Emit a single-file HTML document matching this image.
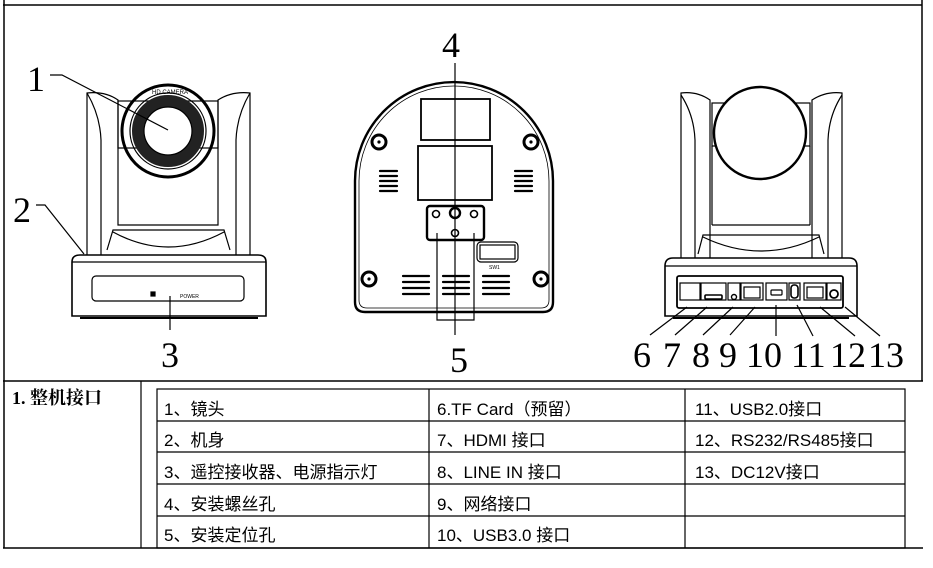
<!DOCTYPE html>
<html><head><meta charset="utf-8"><style>
body{margin:0;background:#fff;width:933px;height:568px;overflow:hidden;font-family:"Liberation Sans","Noto Sans CJK SC",sans-serif}
.t{position:absolute;font-size:17px;color:#000;white-space:nowrap}
</style></head><body>
<svg width="933" height="568" style="position:absolute;left:0;top:0" xmlns="http://www.w3.org/2000/svg" fill="none" stroke="#000" stroke-width="1.2">
<line x1="3" y1="5" x2="922" y2="5" stroke-width="1.5"/>
<line x1="4" y1="0" x2="4" y2="548" stroke-width="1.5"/>
<line x1="922" y1="0" x2="922" y2="381" stroke-width="1.5"/>
<line x1="3" y1="381" x2="923" y2="381" stroke-width="1.5"/>
<line x1="141" y1="381" x2="141" y2="548" stroke-width="1.2"/>
<line x1="3" y1="548" x2="923" y2="548" stroke-width="1.5"/>
<rect x="157" y="389" width="748" height="159" stroke-width="1.2"/>
<line x1="157" y1="421" x2="905" y2="421"/>
<line x1="157" y1="452" x2="905" y2="452"/>
<line x1="157" y1="484" x2="905" y2="484"/>
<line x1="157" y1="516" x2="905" y2="516"/>
<line x1="429" y1="389" x2="429" y2="548"/>
<line x1="685" y1="389" x2="685" y2="548"/>

<path d="M87 255 L87 93 Q105 91 118 100 L118 148"/>
<path d="M87 93 Q100 115 101 140 L101 255"/>
<path d="M250 255 L250 93 Q232 91 218 100 L218 148"/>
<path d="M250 93 Q237 115 236 140 L236 255"/>
<rect x="118" y="101" width="100" height="47"/>
<path d="M118 148 L118 225 L218 225 L218 148"/>
<path d="M107 250 L113 230 L224 230 L230 250 M113 232 Q168 262 224 232"/>
<circle cx="168" cy="131" r="46" stroke-width="3"/>
<circle cx="168" cy="131" r="38"/>
<circle cx="168" cy="131" r="30" stroke="#222" stroke-width="12"/>
<circle cx="168" cy="131" r="24" fill="#fff"/>
<text x="152" y="94" font-size="6" fill="#000" stroke="none" font-family="Liberation Sans">HD CAMERA</text>
<path d="M72 262 Q72 255 80 255 L258 255 Q266 255 266 262 L266 316 L72 316 Z" stroke-width="1.6"/>
<line x1="72" y1="262" x2="266" y2="262"/>
<rect x="92" y="276" width="152" height="25" rx="4"/>
<rect x="151" y="292" width="4" height="4" fill="#000"/>
<text x="180" y="298" font-size="5" fill="#000" stroke="none">POWER</text>
<line x1="80" y1="318" x2="258" y2="318" stroke-width="2"/>
<path d="M50 75 L62 75 L168 130"/>
<path d="M36 205 L45 205 L84 254"/>
<line x1="170" y1="296" x2="170" y2="330"/>

<path d="M355 181 A99 99 0 0 1 553 181 L553 302 Q553 312 543 312 L365 312 Q355 312 355 302 Z" stroke-width="2.4"/>
<path d="M359 181 A95 95 0 0 1 549 181 L549 300 Q549 308 541 308 L367 308 Q359 308 359 300 Z" stroke-width="0.8"/>
<circle cx="379" cy="142" r="7" stroke-width="3"/><circle cx="379" cy="142" r="1" fill="#000"/>
<circle cx="531" cy="142" r="7" stroke-width="3"/><circle cx="531" cy="142" r="1" fill="#000"/>
<circle cx="369" cy="279" r="7" stroke-width="3"/><circle cx="369" cy="279" r="1" fill="#000"/>
<circle cx="541" cy="279" r="7" stroke-width="3"/><circle cx="541" cy="279" r="1" fill="#000"/>
<rect x="421" y="99" width="69" height="41" stroke-width="1.8"/>
<rect x="418" y="146" width="74" height="54" stroke-width="1.8"/>
<rect x="427" y="206" width="57" height="34" rx="3" stroke-width="2.4"/>
<circle cx="436" cy="214" r="3.5" stroke-width="1.6"/>
<circle cx="455" cy="213" r="5" stroke-width="2.4"/>
<circle cx="474" cy="214" r="3.5" stroke-width="1.6"/>
<circle cx="455" cy="233" r="3.5" stroke-width="1.6"/>
<line x1="455" y1="63" x2="455" y2="335"/>
<path d="M437 233 L437 320 L474 320 L474 233"/>
<rect x="477" y="242" width="41" height="20" rx="4" stroke-width="1.2"/>
<rect x="480" y="245" width="35" height="14"/>
<text x="489" y="269" font-size="5" fill="#000" stroke="none">SW1</text>
<g stroke-width="2.2" stroke-linecap="round">
<path d="M380 171h17M380 176h17M380 181h17M380 186h17M380 191h17"/>
<path d="M515 171h17M515 176h17M515 181h17M515 186h17M515 191h17"/>
<path d="M403 276h26M403 282h26M403 288h26M403 294h26"/>
<path d="M443 276h26M443 282h26M443 288h26M443 294h26"/>
<path d="M483 276h26M483 282h26M483 288h26M483 294h26"/>
</g>

<path d="M681 258 L681 93 Q697 91 710 100 L710 258"/>
<path d="M681 95 Q694 115 695 140 L695 258"/>
<path d="M842 258 L842 93 Q826 91 812 100 L812 258"/>
<path d="M842 95 Q829 115 828 140 L828 258"/>
<rect x="712" y="103" width="98" height="43"/>
<line x1="712" y1="146" x2="712" y2="225"/><line x1="810" y1="146" x2="810" y2="225"/>
<line x1="712" y1="225" x2="810" y2="225"/>
<path d="M698 254 L703 235 L819 235 L824 254 M703 237 Q761 265 819 237"/>
<circle cx="760" cy="133" r="46" stroke-width="2.4" fill="#fff"/>
<path d="M665 266 Q665 258 673 258 L849 258 Q857 258 857 266 L857 316 L665 316 Z" stroke-width="1.6"/>
<line x1="665" y1="266" x2="857" y2="266"/>
<rect x="677" y="276" width="166" height="32" rx="2" stroke-width="1.8"/>
<rect x="680" y="283" width="20" height="17"/>
<rect x="701" y="283" width="25" height="17"/>
<rect x="705" y="295" width="17" height="4" rx="1" stroke-width="1.6"/>
<rect x="728" y="283" width="12" height="17"/><circle cx="734" cy="297" r="2.5" stroke-width="1.4"/>
<rect x="741" y="283" width="22" height="17"/><rect x="744" y="287" width="16" height="11"/>
<rect x="766" y="283" width="21" height="17"/><rect x="771" y="290" width="11" height="5" rx="1"/>
<rect x="789" y="283" width="11" height="17"/><rect x="791" y="285" width="7" height="13" rx="3" stroke-width="1.6"/>
<rect x="804" y="283" width="22" height="17"/><rect x="807" y="287" width="16" height="11"/>
<rect x="827" y="283" width="14" height="17"/><circle cx="834" cy="294" r="4" stroke-width="1.8"/>
<line x1="673" y1="318" x2="849" y2="318" stroke-width="2"/>
<path d="M650 335 L687 307"/>
<path d="M675 335 L707 307"/>
<path d="M703 335 L733 307"/>
<path d="M730 335 L755 307"/>
<path d="M776 336 L776 305"/>
<path d="M813 336 L797 305"/>
<path d="M855 336 L820 307"/>
<path d="M880 336 L845 307"/>
<g fill="#000" stroke="none" font-family="Liberation Serif, serif" font-size="36">
<text x="27" y="91">1</text>
<text x="13" y="222">2</text>
<text x="161" y="367">3</text>
<text x="442" y="57">4</text>
<text x="450" y="372">5</text>
<text x="633" y="367">6</text>
<text x="663" y="367">7</text>
<text x="692" y="367">8</text>
<text x="719" y="367">9</text>
<text x="746" y="367">10</text>
<text x="791" y="367">11</text>
<text x="830" y="367">12</text>
<text x="868" y="367">13</text>
</g>
</svg>
<div class="t" style="left:12px;top:384px;font-size:18px;font-weight:bold;font-family:'Liberation Serif','Noto Serif CJK SC',serif">1. 整机接口</div>
<div class="t" style="left:164px;top:395px">1、镜头</div>
<div class="t" style="left:164px;top:426px">2、机身</div>
<div class="t" style="left:164px;top:458px">3、遥控接收器、电源指示灯</div>
<div class="t" style="left:164px;top:490px">4、安装螺丝孔</div>
<div class="t" style="left:164px;top:521px">5、安装定位孔</div>
<div class="t" style="left:437px;top:395px">6.TF Card（预留）</div>
<div class="t" style="left:437px;top:426px">7、HDMI 接口</div>
<div class="t" style="left:437px;top:458px">8、LINE IN 接口</div>
<div class="t" style="left:437px;top:490px">9、网络接口</div>
<div class="t" style="left:437px;top:521px">10、USB3.0 接口</div>
<div class="t" style="left:695px;top:395px">11、USB2.0接口</div>
<div class="t" style="left:695px;top:426px">12、RS232/RS485接口</div>
<div class="t" style="left:695px;top:458px">13、DC12V接口</div>
</body></html>
